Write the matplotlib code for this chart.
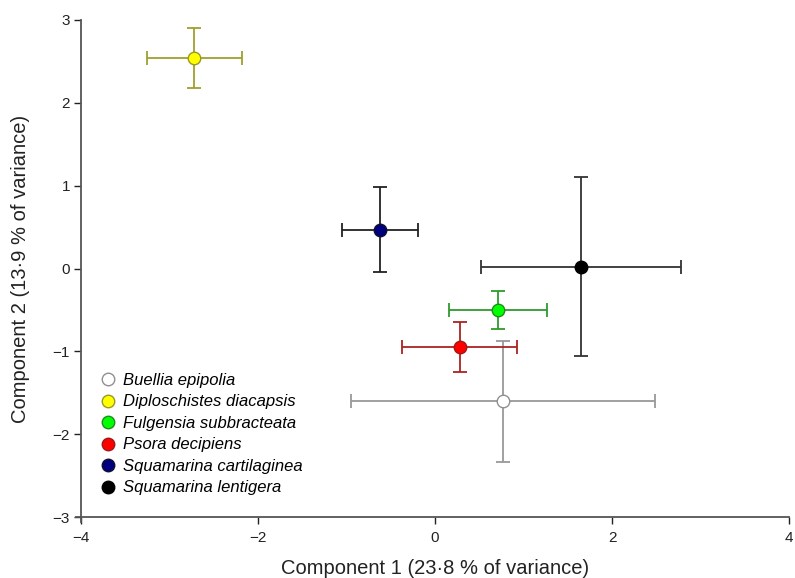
import numpy as np
import matplotlib
matplotlib.use('Agg')
import matplotlib.pyplot as plt

plt.rcParams['font.family'] = ['Liberation Sans', 'DejaVu Sans']

species = ['Buellia epipolia', 'Diploschistes diacapsis', 'Fulgensia subbracteata',
           'Psora decipiens', 'Squamarina cartilaginea', 'Squamarina lentigera']
comp1 = [0.77, -2.72, 0.71, 0.28, -0.62, 1.65]
comp2 = [-1.60, 2.54, -0.50, -0.95, 0.47, 0.02]
err1 = [1.72, 0.54, 0.55, 0.65, 0.43, 1.13]
err2 = [0.73, 0.36, 0.23, 0.30, 0.51, 1.08]

face = ['white', '#ffff00', '#00ff00', '#ff0000', '#00007f', '#000000']
edge = ['#909090', '#9a9a20', '#1e8c1e', '#a01818', '#101030', '#000000']
bar = ['#999999', '#a0a030', '#2e9a2e', '#aa2222', '#222222', '#333333']

fig, ax = plt.subplots(figsize=(7.95, 5.78), dpi=100)
fig.subplots_adjust(left=0.102, right=0.9925, bottom=0.1055, top=0.9654)

for i in range(len(species)):
    ax.errorbar(comp1[i], comp2[i], xerr=err1[i], yerr=err2[i], fmt='none',
                ecolor=bar[i], elinewidth=1.3, capsize=5, capthick=1.3, zorder=2)
for i in range(len(species)):
    ax.plot(comp1[i], comp2[i], 'o', markersize=9, markerfacecolor=face[i],
            markeredgecolor=edge[i], markeredgewidth=1, label=species[i],
            linestyle='none', zorder=3)

ax.set_xlim(-4, 4)
ax.set_ylim(-3, 3)
ax.set_xticks([-4, -2, 0, 2, 4])
ax.set_yticks([-3, -2, -1, 0, 1, 2, 3])
ax.set_xticklabels(['\u22124', '\u22122', '0', '2', '4'])
ax.set_yticklabels(['\u22123', '\u22122', '\u22121', '0', '1', '2', '3'])
ax.spines['top'].set_visible(False)
ax.spines['right'].set_visible(False)
for s in ['left', 'bottom']:
    ax.spines[s].set_color('#555555')
    ax.spines[s].set_linewidth(1.3)
# axes in the original cross slightly past the corner
ax.spines['bottom'].set_bounds(-4.06, 4)
ax.spines['left'].set_bounds(-3.06, 3)
ax.tick_params(labelsize=11, colors='#222222', length=5, width=1, pad=3)
ax.tick_params(axis='x', pad=5)

ax.set_xlabel('Component 1 (23\u00b78 % of variance)', fontsize=14.5,
              color='#222222', labelpad=10)
ax.set_ylabel('Component 2 (13\u00b79 % of variance)', fontsize=14.5,
              color='#222222', labelpad=16)

leg = ax.legend(loc='upper left', bbox_to_anchor=(0.005, 0.32), frameon=False,
                prop={'style': 'italic', 'size': 12}, handletextpad=0.4,
                labelspacing=0.39, handlelength=1.0)

plt.savefig('out.png')
